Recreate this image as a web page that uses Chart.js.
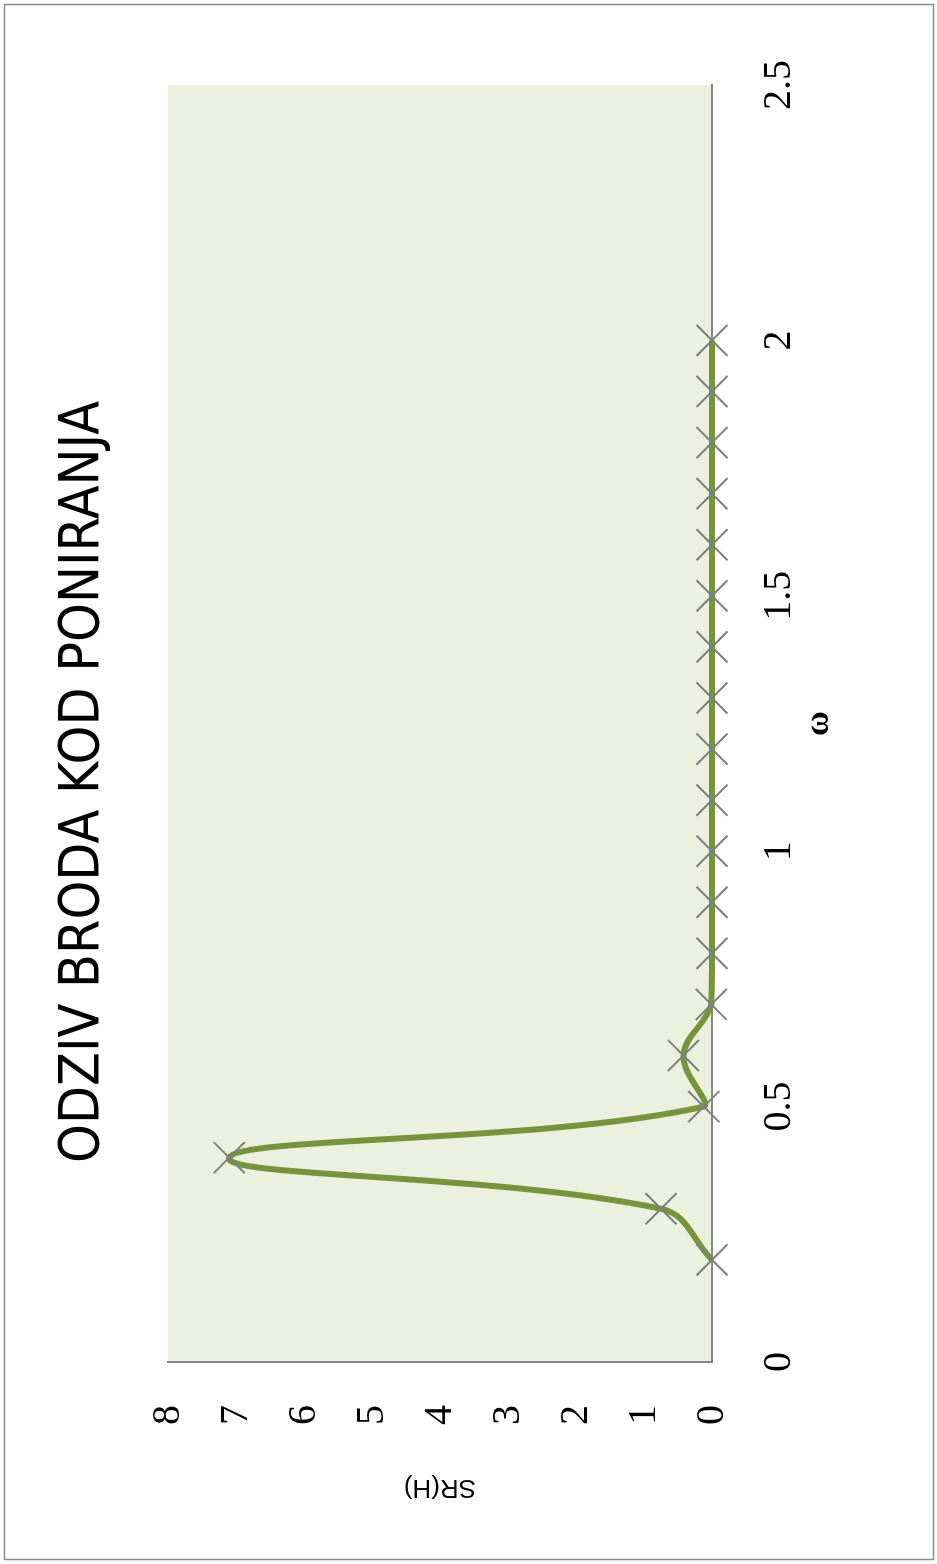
<!DOCTYPE html>
<html><head><meta charset="utf-8">
<script src="https://cdn.jsdelivr.net/npm/chart.js@4/dist/chart.umd.min.js"></script>
<style>
html,body{margin:0;padding:0;background:#fff;overflow:hidden;width:937px;height:1564px;}
#wrap{position:absolute;left:0;top:0;width:1564px;height:937px;transform-origin:0 0;transform:translate(0,1564px) rotate(-90deg);}
</style></head><body>
<div id="wrap"><canvas id="c" width="1564" height="937"></canvas></div>
<script>
const chartTitle = 'ODZIV BRODA KOD PONIRANJA';
const xAxisTitle = 'ω';
const yAxisTitle = 'SR(H)';
const omega    = [0.2, 0.3, 0.4, 0.5, 0.6, 0.7, 0.8, 0.9, 1.0, 1.1, 1.2, 1.3, 1.4, 1.5, 1.6, 1.7, 1.8, 1.9, 2.0];
const response = [0.0, 0.75, 7.1, 0.12, 0.42, 0.01, 0, 0, 0, 0, 0, 0, 0, 0, 0, 0, 0, 0, 0];
const xTickLabels = ['0', '0.5', '1', '1.5', '2', '2.5'];
const yTickLabels = ['0', '1', '2', '3', '4', '5', '6', '7', '8'];

const points = omega.map((w, i) => ({x: w, y: response[i]}));

const bgPlugin = {
  id: 'bg',
  beforeDraw(chart) {
    const {ctx, chartArea: a} = chart;
    ctx.save();
    ctx.fillStyle = '#EBF1DE';
    ctx.fillRect(a.left, a.top, a.right - a.left, a.bottom - a.top);
    ctx.restore();
  },
  afterDraw(chart) {
    const ctx = chart.ctx;
    ctx.save();
    ctx.strokeStyle = '#8C8C8C';
    ctx.lineWidth = 1.5;
    ctx.strokeRect(4.5, 4.5, 1555, 929);
    ctx.restore();
  }
};

new Chart(document.getElementById('c'), {
  type: 'line',
  data: {
    datasets: [{
      data: points,
      borderColor: '#77933C',
      borderWidth: 6,
      tension: 0.4,
      fill: false,
      pointStyle: 'crossRot',
      pointRadius: 22,
      pointBorderColor: '#7F7F7F',
      pointBorderWidth: 2,
      pointBackgroundColor: 'rgba(0,0,0,0)',
      clip: false
    }]
  },
  options: {
    responsive: false,
    animation: false,
    devicePixelRatio: 1,
    layout: {padding: 0},
    plugins: {
      legend: {display: false},
      tooltip: {enabled: false},
      title: {
        display: true,
        text: chartTitle,
        color: '#000',
        font: {family: '"Liberation Sans Narrow", "DejaVu Sans Condensed", "Liberation Sans", sans-serif', size: 55, weight: 'normal'},
        padding: {top: 51, bottom: 51}
      }
    },
    scales: {
      x: {
        type: 'linear', min: 0, max: 2.5,
        grid: {display: false, drawTicks: false},
        border: {display: true, color: '#868686', width: 2},
        ticks: {
          stepSize: 0.5, autoSkip: false, maxRotation: 0, padding: 43, color: '#000',
          font: {family: '"Liberation Serif", serif', size: 40},
          callback: (v) => xTickLabels[Math.round(v / 0.5)] ?? ''
        },
        title: {display: true, text: xAxisTitle, color: '#000',
          font: {family: '"Liberation Serif", serif', size: 34, weight: 'bold'},
          padding: {top: 0, bottom: 97}},
        afterFit(s) { s.height = 225; }
      },
      y: {
        type: 'linear', min: 0, max: 8,
        grid: {display: false, drawTicks: false},
        border: {display: true, color: '#868686', width: 2},
        ticks: {
          stepSize: 1, padding: 43, color: '#000',
          font: {family: '"Liberation Serif", serif', size: 40},
          callback: (v) => yTickLabels[Math.round(v)] ?? ''
        },
        title: {display: true, text: yAxisTitle, color: '#000',
          font: {family: '"Liberation Sans", sans-serif', size: 26},
          padding: {top: 61, bottom: 0}},
        afterFit(s) { s.width = 202; }
      },
      yRight: {
        type: 'linear', position: 'right', display: true,
        grid: {display: false, drawTicks: false},
        border: {display: false},
        ticks: {display: false},
        afterFit(s) { s.width = 85; }
      }
    }
  },
  plugins: [bgPlugin]
});
</script>
</body></html>
